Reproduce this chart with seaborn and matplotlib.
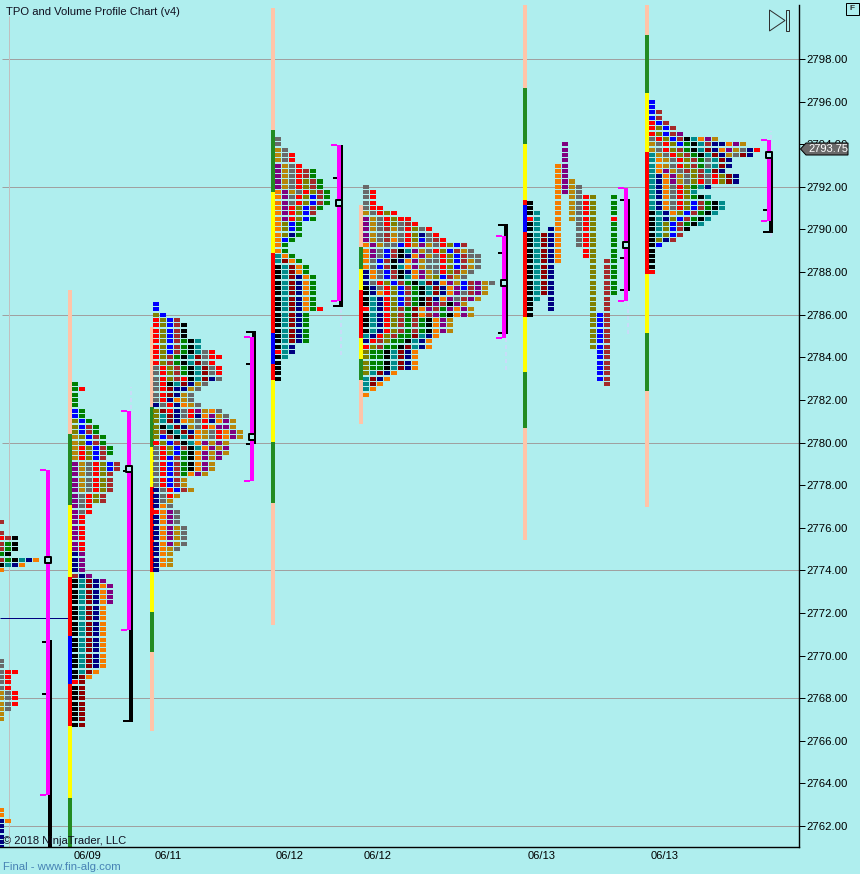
import matplotlib
matplotlib.use("Agg")
import matplotlib.pyplot as plt
from matplotlib.patches import Polygon, Rectangle
import numpy as np
import pandas as pd
import seaborn as sns

# TPO profiles: each string is one price row (0.25 apart), one letter per cell
P0_TOP_A = 2776.25
P0_ROWS_A = ["W", "", "W", "RWK", "WGK", "WGK", "GK", "WGKTNO", "KTNO", "O"]
P0_TOP_B = 2769.75
P0_ROWS_B = ["Y", "Y", "YRR", "YR", "YR", "YR", "DYR", "DYR", "DYR", "DY", "D", "D"]
P0_TOP_C = 2762.75
P0_ROWS_C = ["O", "O", "NO", "N", "N", "N", "N", "N"]

P1_TOP = 2782.75
P1_ROWS = [
    "G", "GR", "G", "G", "G", "BG", "BG", "VBG", "VBWG", "VBWG", "DVBWG", "DVBWG",
    "DRVBWG", "DRVBWG", "DRVBW", "PDYRVBW", "PDYRVBW", "PDYRVW", "PDYRVW", "PDYRVW",
    "PDYRVW", "PYRVW", "PYRVW", "PYR", "PYR", "PR", "PR", "PR", "PR", "PR", "PR", "PR",
    "NP", "NP", "NP", "NP", "WNP", "KTMNP", "KTMNOP", "KTMNOP", "KTMNOP", "KTMNOP",
    "KTMNO", "KTMNO", "KTMNO", "KTMNO", "KTMNO", "KTMNO", "KTMNO", "KTMNO", "KTMNO",
    "KTMNO", "KTMNO", "KTMNO", "KTMO", "KMO", "RM", "KM", "KM", "KM", "KM", "KM", "KM",
    "KM", "KM",
]

P2_TOP = 2786.5
P2_ROWS = [
    "B", "B", "VB", "RVBW", "RVBWK", "RVBWK", "RVBWK", "RVBWGKT", "RVBWGKT", "RVBWGKTYR",
    "RVWGKTMYRR", "RVWGKTMYR", "YRVWGKTMYR", "YRVWGKTMYR", "YRVWRKTMNY", "YRKTMNDY",
    "YRMNNDY", "YRMNDY", "YRNODY", "NYRNODY", "VMRNYRPDOY", "VTMNYRNOPDY", "VTMNODYRNOPD",
    "VKTMNDYROPPD", "VWKTMNODYROPD", "VBWKTMODYROPD", "RVBWKTOPDPD", "YRVBWKTOPDP",
    "YRVBGKOPDPD", "YRBWGKOPDP", "YRBWGKOPD", "YRBWGKOPD", "YRBWGOPD", "YRBWD", "YRBWD",
    "NYRBWD", "NYRD", "NYD", "NOY", "ROPY", "NOPY", "NOPY", "NOPDY", "NOPDY", "NOPDY",
    "NOPDY", "NODY", "NOD", "NOD", "NOD", "N",
]

P3_TOP = 2794.25
P3_ROWS = [
    "Y", "Y", "DY", "DYR", "DYR", "PDYR", "PDYRWG", "PDYRWG", "PDYRVWG", "PDYRVWG",
    "OPDYRVWG", "OPYRVBWG", "OPYRVBWG", "OPRVBWG", "OPRVBW", "OPRVBG", "OVBG", "OVBG",
    "OVNG", "OBG", "OG", "OG", "TOG", "TMOG", "KTMOG", "KTMOG", "KTMNOG", "KTMNOG",
    "KTMNOG", "KTMNOG", "KTMNOG", "KTMNOG", "KTMNOGR", "KTMNG", "KTMNG", "KTMNG", "KTMNG",
    "KTMNG", "KTMNG", "KTN", "RTN", "KT", "K", "K", "K", "K",
]

P4_TOP = 2792.0
P4_ROWS = [
    "Y", "YR", "YR", "YR", "YRR", "DYRVR", "PDYRVRR", "PDYRVYWR", "PDYWDYRVYR",
    "PDYWDYRVNYR", "PDYWOYRVBYWR", "OPDYYBRDPDYRVBW", "OPYBWKTPDYRVBWDY",
    "OPYBWKNOPDYRVBWYY", "OYBWKNOPDYYRVBWDY", "OYBWKTOPDYYRVBWDY", "NOYBWKNOPDYRVWDY",
    "NOYBWKTOPDVBWDY", "NYRVBWGKTMNOPDBWPDY", "KNYRVBWGKTMNOPBWPD", "KNORVBWGKTMNOPYWPD",
    "KTNRVBWGKMNOPYWPD", "KTNRVBWGKMPWKPD", "RTNRVWGMOPWGPOPD", "KTNRVWGMOWPGKOPD",
    "KTNRVWGWGKOPD", "KTNRVWGWGKOPD", "KTNRVWGWGKOPD", "TNRVWGGMTNO", "NRWVGGKTNO",
    "RVWGGKMTNO", "VGGKTMNO", "VGGKTMNO", "VGGKTMNO", "VGGKTMNO", "VTMNO", "TMNO", "TMO",
    "TO", "O",
]

P5_TOP = 2794.0
P5_ROWS = [
    ".....P", ".....P", ".....P", ".....P", "....OP", "....OP", "....OP", "....OPD",
    "....OPDY", "....OPDY", "....O.DYRV..G", "K...O.DYRV..G", "K...O.DYRV..G",
    "KT..O.DYRV..G", "RT..O.DYRV..R", "KT..O..YRV..G", "KT.NO..YRV..G", "KTMNO..YRV..G",
    "KTMNO..YRV..G", "KTMNO..YRV..G", "KTMNO...RV..G", "KTMNO...RV..G", "KTMNO....V.WG",
    "KTMN.....V.WG", "KTMN.....V.WG", "KTMN.....V.WG", "KTMN.....V.WG", "KTMN.....V.WG",
    "KTMN.....V.WG", "KT.N.....V.W.", "K..N.....V.W.", "K..N.....V.W.", "K........VBW.",
    ".........VBW.", ".........VBW.", ".........VBW.", ".........VBW.", ".........VBW.",
    ".........VBW.", "..........BW.", "..........BW.", "..........BW.", "..........BW.",
    "..........BW.", "..........BW.", "...........W.",
]

P6_TOP = 2796.0
P6_ROWS = [
    "B", "B", "BW", "BW", "RBW", "RVBW", "RVBWP", "YRVBWKTOPD", "DYRVBGKTWNNOPD",
    "DYRVWGKTMNOPDYNR", "TDYRVWGKTMNDYMN", "TODYRVWGYTMN", "TODYRVWGYTMN", "TOPDYWVWTMN",
    "TNOPDYVWYRVMN", "TNOPDYVRYRVMN", "TNOYRVGTN", "TNOYRVT", "TNOYRVGKT", "TNOYRVBWGKT",
    "TNOYRVBWGKT", "KTNOVBWGKT", "KTNVBWGKT", "KTVBWGKT", "KTVBWK", "KTVBW", "KVNW", "KB",
    "K", "K", "K", "K", "R",
]

# session bars: edge prices from top to bottom and the colours between them
P1_BAR_EDGES = [2787.16, 2780.40, 2777.07, 2773.69, 2770.92, 2768.67, 2766.69, 2763.31, 2761.0]
P1_BAR_COLS = ["peach", "green", "yellow", "red", "blue", "red", "yellow", "green"]
P2_BAR_EDGES = [2785.42, 2781.67, 2779.79, 2777.91, 2773.92, 2772.04, 2770.17, 2766.46]
P2_BAR_COLS = ["peach", "green", "yellow", "red", "yellow", "green", "peach"]
P3_BAR_EDGES = [2800.39, 2794.67, 2791.76, 2788.89, 2785.14, 2783.69, 2782.93, 2780.02, 2777.16, 2771.43]
P3_BAR_COLS = ["peach", "green", "yellow", "red", "blue", "red", "yellow", "green", "peach"]
P4_BAR_EDGES = [2791.15, 2789.18, 2788.14, 2787.16, 2784.91, 2783.92, 2782.93, 2780.87]
P4_BAR_COLS = ["peach", "green", "yellow", "red", "yellow", "green", "peach"]
P5_BAR_EDGES = [2800.53, 2796.64, 2794.01, 2791.38, 2791.15, 2789.88, 2785.89, 2783.31, 2780.68, 2775.42]
P5_BAR_COLS = ["peach", "green", "yellow", "red", "blue", "red", "yellow", "green", "peach"]
P6_BAR_EDGES = [2800.53, 2799.13, 2796.40, 2793.64, 2787.91, 2785.14, 2782.42, 2776.97]
P6_BAR_COLS = ["peach", "green", "yellow", "red", "yellow", "green", "peach"]

# value area (magenta) and range (black) per profile, with point of control
VA_HIGH = [2778.71, 2781.48, 2784.96, 2793.96, 2789.69, 2791.95, 2794.20]
VA_LOW = [2763.46, 2771.20, 2778.21, 2786.62, 2784.91, 2786.64, 2790.40]
RANGE_HIGH = [2770.73, 2778.88, 2785.19, 2793.96, 2790.21, 2791.43, 2793.64]
RANGE_LOW = [2761.0, 2766.95, 2779.94, 2786.41, 2785.09, 2787.11, 2789.88]
POC = [2774.5, 2778.75, 2780.25, 2791.25, 2787.5, 2789.25, 2793.5]
BLACK_TICKS = [
    [2770.66, 2768.2], [2778.66], [2783.69, 2779.94], [2792.43],
    [2788.89, 2785.14], [2791.38, 2788.66, 2787.16], [2790.91],
]
RANGE_CAP_HIGH = [False, False, True, False, True, False, False]
RANGE_CAP_LOW = [False, True, False, True, False, False, True]

NAVY_LEVEL = 2771.76
LAST_PRICE = "2793.75"
GRID_PRICES = [2798, 2792, 2786, 2780, 2774, 2768, 2762]
PRICE_TICKS = [2798, 2796, 2794, 2792, 2790, 2788, 2786, 2784, 2782, 2780, 2778, 2776,
               2774, 2772, 2770, 2768, 2766, 2764, 2762]
DATE_LABELS = ["06/09", "06/11", "06/12", "06/12", "06/13", "06/13"]

# layout, in pixels of the 860x874 picture
W, H = 860, 874
AX_RIGHT, AX_TOP, AX_BOTTOM = 799, 5, 847
DATE_X = [87, 168, 290, 378, 542, 665]
PITCH = 7
P_ORIGIN = {"p1": 72, "p2": 153, "p3": 275, "p4": 363, "p5": 527, "p6": 649, "p0": -2}
BAR_X = [70, 152, 273, 361, 525, 647]
VA_X = [48, 129, 252, 339, 504, 626, 769]
RANGE_X = [50, 131, 254, 341, 506, 628, 771]
FAINT_X = [131, 341, 506, 628, 771]
FAINT_HIGH = [2782.6, 2786.41, 2784.9, 2787.1, 2794.6]
FAINT_LOW = [2778.95, 2784.11, 2783.4, 2785.1, 2789.65]
PX = 0.72  # one pixel in points at dpi 100

BG = "#AFEEEE"
CELL_COLORS = {
    "G": "#008000", "R": "#FF0000", "K": "#000000", "B": "#0000FF", "N": "#000080",
    "T": "#008B8B", "M": "#8B0000", "W": "#A52A2A", "O": "#F57C00", "D": "#B8860B",
    "V": "#808000", "P": "#800080", "Y": "#696969",
}
BAR_COLORS = {"peach": "#FFC4A8", "green": "#228B22", "yellow": "#FFFF00", "red": "#FF0000", "blue": "#0000FF"}

sns.set_theme(style="white", rc={"axes.facecolor": BG, "figure.facecolor": BG})
plt.rcParams["font.family"] = ["Liberation Sans", "DejaVu Sans"]


def profile_cells(rows, top, origin):
    out = []
    for i, row in enumerate(rows):
        for j, code in enumerate(row):
            if code != ".":
                out.append({"x": origin + j * PITCH + 3, "price": top - i * 0.25, "code": code})
    return out


def fx(x):
    return x / W


def fy(y):
    return 1 - y / H


cells = pd.DataFrame(
    profile_cells(P0_ROWS_A, P0_TOP_A, P_ORIGIN["p0"])
    + profile_cells(P0_ROWS_B, P0_TOP_B, P_ORIGIN["p0"])
    + profile_cells(P0_ROWS_C, P0_TOP_C, P_ORIGIN["p0"])
    + profile_cells(P1_ROWS, P1_TOP, P_ORIGIN["p1"])
    + profile_cells(P2_ROWS, P2_TOP, P_ORIGIN["p2"])
    + profile_cells(P3_ROWS, P3_TOP, P_ORIGIN["p3"])
    + profile_cells(P4_ROWS, P4_TOP, P_ORIGIN["p4"])
    + profile_cells(P5_ROWS, P5_TOP, P_ORIGIN["p5"])
    + profile_cells(P6_ROWS, P6_TOP, P_ORIGIN["p6"])
)

fig = plt.figure(figsize=(W / 100, H / 100), dpi=100, facecolor=BG)
ax = fig.add_axes([0, fy(AX_BOTTOM), fx(AX_RIGHT), (AX_BOTTOM - AX_TOP) / H])

ax.hlines(GRID_PRICES, 2, AX_RIGHT, color="#A0A0A0", lw=PX, zorder=1)
ax.vlines(9, 2761.0, 2800.0, color="#C0C0C0", lw=PX, zorder=1)
ax.hlines(NAVY_LEVEL, 0, 70, color="#000080", lw=PX, zorder=1)

# session bars
bars = [
    (P1_BAR_EDGES, P1_BAR_COLS), (P2_BAR_EDGES, P2_BAR_COLS), (P3_BAR_EDGES, P3_BAR_COLS),
    (P4_BAR_EDGES, P4_BAR_COLS), (P5_BAR_EDGES, P5_BAR_COLS), (P6_BAR_EDGES, P6_BAR_COLS),
]
for x, (edges, cols) in zip(BAR_X, bars):
    for hi, lo, name in zip(edges[:-1], edges[1:], cols):
        ax.vlines(x, lo, hi, color=BAR_COLORS[name], lw=4 * PX, zorder=2)

# the TPO cells, flat rectangles of 6x4 px
cell_marker = np.array([(-1, -0.667), (1, -0.667), (1, 0.667), (-1, 0.667), (-1, -0.667)])
sns.scatterplot(
    data=cells, x="x", y="price", hue="code", palette=CELL_COLORS, marker=cell_marker,
    s=(6 * PX) ** 2, linewidth=0, legend=False, ax=ax, zorder=3, antialiased=False,
)

# brackets on the right of each profile
ax.vlines(FAINT_X, FAINT_LOW, FAINT_HIGH, color="#C8DCF8", lw=2 * PX, linestyles=(0, (2, 1.5)), zorder=2)
for i in range(len(VA_X)):
    xr, xv = RANGE_X[i], VA_X[i]
    ax.vlines(xr, RANGE_LOW[i], RANGE_HIGH[i], color="black", lw=4 * PX, zorder=4)
    if RANGE_CAP_HIGH[i]:
        ax.hlines(RANGE_HIGH[i], xr - 8, xr + 2, color="black", lw=2 * PX, zorder=4)
    if RANGE_CAP_LOW[i]:
        ax.hlines(RANGE_LOW[i], xr - 8, xr + 2, color="black", lw=2 * PX, zorder=4)
    ax.hlines(BLACK_TICKS[i], xr - 8, xr - 4, color="black", lw=2 * PX, zorder=4)
    ax.vlines(xv, VA_LOW[i], VA_HIGH[i], color="#FF00FF", lw=4 * PX, zorder=5)
    ax.hlines([VA_HIGH[i], VA_LOW[i]], xv - 8, xv - 2, color="#FF00FF", lw=2 * PX, zorder=5)

poc = pd.DataFrame({"x": VA_X, "price": POC})
sns.scatterplot(
    data=poc, x="x", y="price", marker="s", s=(6 * PX) ** 2, color=BG, edgecolor="black",
    linewidth=2 * PX, legend=False, ax=ax, zorder=6,
)

ax.set_xlim(0, AX_RIGHT)
ax.set_ylim(2761.015, 2800.534)
ax.set_xlabel("")
ax.set_ylabel("")
ax.set_xticks(DATE_X)
ax.set_xticklabels(DATE_LABELS)
ax.set_yticks(PRICE_TICKS)
ax.set_yticklabels([f"{p:.2f}" for p in PRICE_TICKS])
ax.yaxis.tick_right()
ax.tick_params(axis="y", length=4.5, width=PX, pad=1, labelsize=8.2, colors="black", right=True, left=False)
ax.tick_params(axis="x", length=0, pad=3, labelsize=8.0, colors="black")
for side in ["top", "left"]:
    ax.spines[side].set_visible(False)
for side in ["right", "bottom"]:
    ax.spines[side].set_color("black")
    ax.spines[side].set_linewidth(1.4 * PX)

# texts and the little widgets around the plot
fig.text(fx(6), fy(12), "TPO and Volume Profile Chart (v4)", fontsize=8.1, color="#101020", va="center")
fig.text(fx(3), fy(841), "© 2018 NinjaTrader, LLC", fontsize=8.0, color="#101020", va="center", zorder=10)
fig.text(fx(3), fy(867), "Final - www.fin-alg.com", fontsize=8.2, color="#4682B4", va="center")

tag = [(800.5, 149), (806, 143), (848, 143), (848, 155), (806, 155)]
fig.add_artist(Polygon([(fx(a), fy(b)) for a, b in tag], closed=True, transform=fig.transFigure,
                       facecolor="#696969", edgecolor="black", lw=PX, zorder=8))
fig.text(fx(808), fy(149.5), LAST_PRICE, fontsize=8.0, color="white", va="center", zorder=9)

fig.add_artist(Rectangle((fx(846), fy(14.5)), 13 / W, 11.5 / H, transform=fig.transFigure,
                         facecolor=BG, edgecolor="black", lw=PX))
fig.text(fx(852.5), fy(9), "F", fontsize=6, fontweight="bold", color="#303030", ha="center", va="center")

tri = [(769.5, 10), (785, 20.5), (769.5, 31)]
fig.add_artist(Polygon([(fx(a), fy(b)) for a, b in tri], closed=True, transform=fig.transFigure,
                       facecolor="none", edgecolor="#303030", lw=PX, zorder=8))
fig.add_artist(Rectangle((fx(786), fy(30.5)), 3 / W, 20 / H, transform=fig.transFigure,
                         facecolor="none", edgecolor="#303030", lw=PX, zorder=8))

fig.savefig("out.png", dpi=100, facecolor=BG)
